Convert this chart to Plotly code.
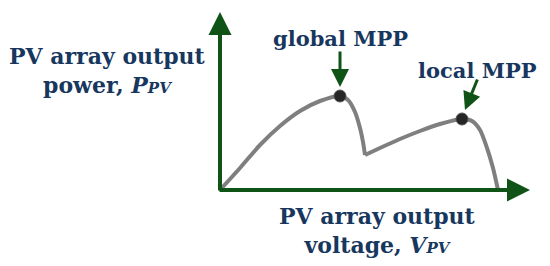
import plotly.graph_objects as go

# PV curve (voltage, power) in arbitrary units, origin at the axis corner
v_rise = [0, 20, 40, 60, 80, 100, 120, 128, 135, 140, 143, 145]
p_rise = [0, 22, 45, 64, 79, 89, 94, 90, 78, 62, 48, 35]
v_second = [145, 160, 180, 200, 220, 242, 252, 260, 267, 273, 278]
p_second = [35, 42, 51, 59, 66, 71, 69, 60, 42, 22, 0]

mpp_v = [120, 242]
mpp_p = [94, 71]
mpp_names = ["global MPP", "local MPP"]

TEXT = "#17375e"
GREEN = "#0f5416"
FONT = "DejaVu Serif"

fig = go.Figure()

for xs, ys in [(v_rise, p_rise), (v_second, p_second)]:
    fig.add_trace(go.Scatter(
        x=xs, y=ys, mode="lines",
        line=dict(color="#7f7f7f", width=4, shape="spline", smoothing=0.8),
        hoverinfo="skip"
    ))

fig.add_trace(go.Scatter(
    x=mpp_v, y=mpp_p, mode="markers",
    marker=dict(size=12, color="#262626", line=dict(color="#555555", width=1)),
    hoverinfo="skip"
))

# axis arrows
fig.add_annotation(x=0, y=178, ax=0, ay=-2, xref="x", yref="y", axref="x", ayref="y",
                   text="", showarrow=True, arrowhead=2, arrowsize=1.15,
                   arrowwidth=4, arrowcolor=GREEN)
fig.add_annotation(x=310, y=0, ax=-2, ay=0, xref="x", yref="y", axref="x", ayref="y",
                   text="", showarrow=True, arrowhead=2, arrowsize=1.15,
                   arrowwidth=4, arrowcolor=GREEN)

# MPP pointers
fig.add_annotation(x=mpp_v[0], y=mpp_p[0] + 9, ax=mpp_v[0], ay=mpp_p[0] + 46,
                   xref="x", yref="y", axref="x", ayref="y",
                   text="", showarrow=True, arrowhead=2, arrowsize=1.2,
                   arrowwidth=3, arrowcolor=GREEN)
fig.add_annotation(x=mpp_v[1] + 3, y=mpp_p[1] + 9, ax=mpp_v[1] + 16, ay=mpp_p[1] + 41,
                   xref="x", yref="y", axref="x", ayref="y",
                   text="", showarrow=True, arrowhead=2, arrowsize=1.2,
                   arrowwidth=3, arrowcolor=GREEN)

fig.add_annotation(x=120, y=152, text="<b>" + mpp_names[0] + "</b>", showarrow=False,
                   font=dict(family=FONT, size=21, color=TEXT))
fig.add_annotation(x=257, y=120, text="<b>" + mpp_names[1] + "</b>", showarrow=False,
                   font=dict(family=FONT, size=21, color=TEXT))

fig.add_annotation(
    x=-113, y=120,
    text="<b>PV array output<br>power, <i>P<span style='font-size:15px'>PV</span></i></b>",
    showarrow=False, font=dict(family=FONT, size=22, color=TEXT)
)
fig.add_annotation(
    x=157, y=-40,
    text="<b>PV array output<br>voltage, <i>V<span style='font-size:15px'>PV</span></i></b>",
    showarrow=False, font=dict(family=FONT, size=22, color=TEXT)
)

fig.update_layout(
    width=550, height=266,
    margin=dict(l=0, r=0, t=0, b=0),
    paper_bgcolor="white", plot_bgcolor="white",
    showlegend=False,
    xaxis=dict(range=[-220, 330], visible=False),
    yaxis=dict(range=[-76, 190], visible=False),
)

fig.write_html("out.html", config={"displayModeBar": False},
               post_script="document.body.style.margin='0';")
